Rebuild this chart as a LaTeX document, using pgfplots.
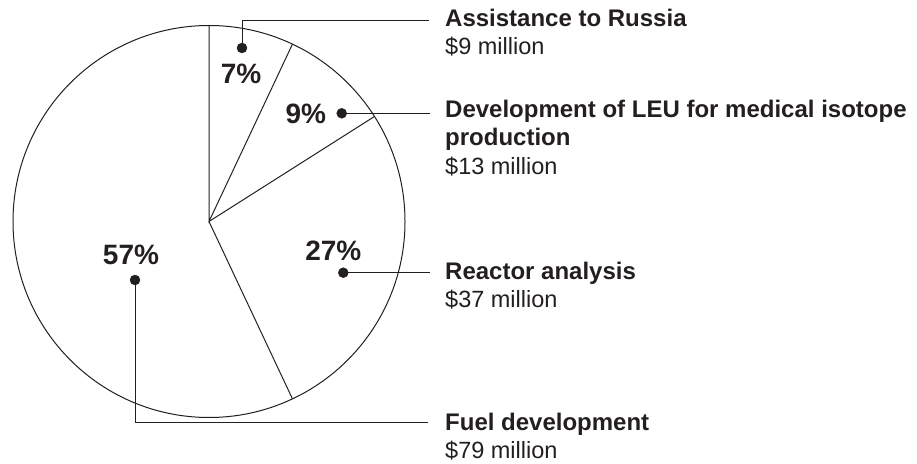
\documentclass[border=0pt]{standalone}
\usepackage{pgfplots}
\pgfplotsset{compat=1.18}
\usepgfplotslibrary{polar}
\usepackage{fontspec}
\setmainfont{Liberation Sans}
\definecolor{ink}{HTML}{231F20}
\begin{document}
\begin{tikzpicture}
\begin{axis}[
  scale only axis, width=917pt, height=463pt,
  xmin=-209, xmax=708, ymin=-241.5, ymax=221.5,
  hide axis, clip=false,
]
\path (rel axis cs:0,0) rectangle (rel axis cs:1,1);
% pie outline
\draw[ink, line width=1pt] (axis cs:0,0) circle[radius=196];
% slice boundaries: shares 7, 9, 27, 57 percent, clockwise from top
% angles = 90 - 3.6*cumulative percent
\addplot[ink, line width=1pt, no markers, data cs=polar] coordinates {(90,196) (0,0) (64.8,196)};
\addplot[ink, line width=1pt, no markers, data cs=polar] coordinates {(0,0) (32.4,196)};
\addplot[ink, line width=1pt, no markers, data cs=polar] coordinates {(0,0) (-64.8,196)};
% leader lines
\addplot[ink, line width=0.9pt, no markers] coordinates {(33,173.5) (33,200.8) (220,200.8)};
\addplot[ink, line width=0.9pt, no markers] coordinates {(132.7,108.2) (221,108.2)};
\addplot[ink, line width=0.9pt, no markers] coordinates {(134.3,-51.2) (221,-51.2)};
\addplot[ink, line width=0.9pt, no markers] coordinates {(-74,-58.5) (-74,-201.2) (219,-201.2)};
% dots
\addplot[ink, only marks, mark=*, mark size=5pt] coordinates {(33,173.5) (132.7,108.2) (134.3,-51.2) (-74,-58.5)};
% percentage labels
\begin{scope}[every node/.style={text=ink, anchor=base, inner sep=0pt, font=\fontsize{28}{30}\selectfont\bfseries}]
\node at (axis cs:32,138.2) {7\%};
\node at (axis cs:96.8,97.5) {9\%};
\node at (axis cs:124.3,-39.5) {27\%};
\node at (axis cs:-78,-43.5) {57\%};
\end{scope}
% category labels
\begin{scope}[every node/.style={text=ink, anchor=base west, inner sep=0pt, font=\fontsize{23.5}{28}\selectfont}]
\node at (axis cs:236,194.5) {\fontsize{24}{28}\selectfont\bfseries Assistance to Russia};
\node at (axis cs:236,166.5) {\$9 million};
\node at (axis cs:236,104) {\fontsize{24}{28}\selectfont\bfseries Development of LEU for medical isotope};
\node at (axis cs:236,75.5) {\fontsize{24}{28}\selectfont\bfseries production};
\node at (axis cs:236,46.5) {\$13 million};
\node at (axis cs:236,-58.5) {\fontsize{24}{28}\selectfont\bfseries Reactor analysis};
\node at (axis cs:236,-86.5) {\$37 million};
\node at (axis cs:236,-208.5) {\fontsize{24}{28}\selectfont\bfseries Fuel development};
\node at (axis cs:236,-236.5) {\$79 million};
\end{scope}
\end{axis}
\end{tikzpicture}
\end{document}
